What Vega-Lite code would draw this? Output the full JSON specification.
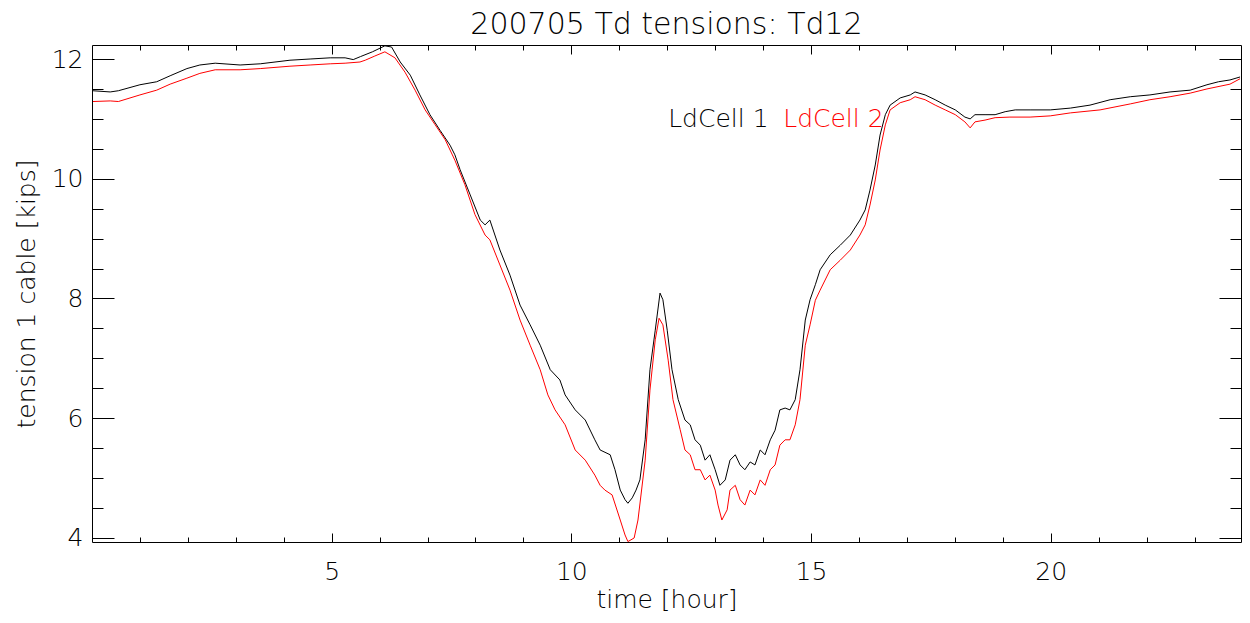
{
  "$schema": "https://vega.github.io/schema/vega-lite/v6.json",
  "width": 1149,
  "height": 497,
  "autosize": {"type": "none"},
  "padding": {"left": 92, "top": 45, "right": 9, "bottom": 81},
  "background": "white",
  "title": {"text": "200705 Td tensions: Td12", "font": "DejaVu Sans", "fontSize": 30, "fontWeight": 200, "color": "black", "baseline": "alphabetic", "offset": 11, "dy": 31, "anchor": "middle"},
  "config": {"view": {"stroke": null}, "axis": {"grid": false}},
  "datasets": {
    "series": [
      {"t":0.02,"v":11.47,"s":"LdCell 1"},{"t":0.38,"v":11.45,"s":"LdCell 1"},{"t":0.55,"v":11.47,"s":"LdCell 1"},{"t":1.0,"v":11.57,"s":"LdCell 1"},{"t":1.35,"v":11.62,"s":"LdCell 1"},{"t":1.63,"v":11.72,"s":"LdCell 1"},{"t":1.98,"v":11.84,"s":"LdCell 1"},{"t":2.25,"v":11.9,"s":"LdCell 1"},{"t":2.57,"v":11.93,"s":"LdCell 1"},{"t":3.09,"v":11.9,"s":"LdCell 1"},{"t":3.51,"v":11.92,"s":"LdCell 1"},{"t":4.13,"v":11.98,"s":"LdCell 1"},{"t":4.55,"v":12.0,"s":"LdCell 1"},{"t":4.97,"v":12.02,"s":"LdCell 1"},{"t":5.28,"v":12.02,"s":"LdCell 1"},{"t":5.45,"v":11.99,"s":"LdCell 1"},{"t":5.6,"v":12.04,"s":"LdCell 1"},{"t":5.85,"v":12.12,"s":"LdCell 1"},{"t":6.11,"v":12.22,"s":"LdCell 1"},{"t":6.25,"v":12.2,"s":"LdCell 1"},{"t":6.43,"v":11.95,"s":"LdCell 1"},{"t":6.64,"v":11.73,"s":"LdCell 1"},{"t":6.84,"v":11.4,"s":"LdCell 1"},{"t":7.05,"v":11.07,"s":"LdCell 1"},{"t":7.26,"v":10.81,"s":"LdCell 1"},{"t":7.47,"v":10.56,"s":"LdCell 1"},{"t":7.57,"v":10.4,"s":"LdCell 1"},{"t":7.68,"v":10.15,"s":"LdCell 1"},{"t":7.89,"v":9.73,"s":"LdCell 1"},{"t":8.1,"v":9.31,"s":"LdCell 1"},{"t":8.2,"v":9.23,"s":"LdCell 1"},{"t":8.3,"v":9.31,"s":"LdCell 1"},{"t":8.51,"v":8.81,"s":"LdCell 1"},{"t":8.72,"v":8.39,"s":"LdCell 1"},{"t":8.93,"v":7.89,"s":"LdCell 1"},{"t":9.14,"v":7.56,"s":"LdCell 1"},{"t":9.35,"v":7.22,"s":"LdCell 1"},{"t":9.56,"v":6.81,"s":"LdCell 1"},{"t":9.76,"v":6.64,"s":"LdCell 1"},{"t":9.87,"v":6.39,"s":"LdCell 1"},{"t":10.08,"v":6.14,"s":"LdCell 1"},{"t":10.29,"v":5.97,"s":"LdCell 1"},{"t":10.49,"v":5.64,"s":"LdCell 1"},{"t":10.6,"v":5.47,"s":"LdCell 1"},{"t":10.81,"v":5.39,"s":"LdCell 1"},{"t":10.91,"v":5.14,"s":"LdCell 1"},{"t":11.02,"v":4.8,"s":"LdCell 1"},{"t":11.12,"v":4.64,"s":"LdCell 1"},{"t":11.18,"v":4.58,"s":"LdCell 1"},{"t":11.27,"v":4.67,"s":"LdCell 1"},{"t":11.35,"v":4.8,"s":"LdCell 1"},{"t":11.43,"v":4.97,"s":"LdCell 1"},{"t":11.54,"v":5.64,"s":"LdCell 1"},{"t":11.64,"v":6.81,"s":"LdCell 1"},{"t":11.75,"v":7.47,"s":"LdCell 1"},{"t":11.85,"v":8.09,"s":"LdCell 1"},{"t":11.91,"v":7.98,"s":"LdCell 1"},{"t":12.0,"v":7.47,"s":"LdCell 1"},{"t":12.1,"v":6.81,"s":"LdCell 1"},{"t":12.23,"v":6.31,"s":"LdCell 1"},{"t":12.37,"v":5.97,"s":"LdCell 1"},{"t":12.48,"v":5.89,"s":"LdCell 1"},{"t":12.58,"v":5.64,"s":"LdCell 1"},{"t":12.69,"v":5.55,"s":"LdCell 1"},{"t":12.79,"v":5.3,"s":"LdCell 1"},{"t":12.89,"v":5.39,"s":"LdCell 1"},{"t":13.0,"v":5.14,"s":"LdCell 1"},{"t":13.1,"v":4.88,"s":"LdCell 1"},{"t":13.21,"v":4.97,"s":"LdCell 1"},{"t":13.31,"v":5.3,"s":"LdCell 1"},{"t":13.42,"v":5.39,"s":"LdCell 1"},{"t":13.52,"v":5.22,"s":"LdCell 1"},{"t":13.62,"v":5.14,"s":"LdCell 1"},{"t":13.73,"v":5.27,"s":"LdCell 1"},{"t":13.83,"v":5.22,"s":"LdCell 1"},{"t":13.94,"v":5.47,"s":"LdCell 1"},{"t":14.04,"v":5.39,"s":"LdCell 1"},{"t":14.15,"v":5.64,"s":"LdCell 1"},{"t":14.25,"v":5.8,"s":"LdCell 1"},{"t":14.35,"v":6.14,"s":"LdCell 1"},{"t":14.46,"v":6.17,"s":"LdCell 1"},{"t":14.56,"v":6.14,"s":"LdCell 1"},{"t":14.67,"v":6.31,"s":"LdCell 1"},{"t":14.77,"v":6.81,"s":"LdCell 1"},{"t":14.88,"v":7.64,"s":"LdCell 1"},{"t":14.98,"v":7.98,"s":"LdCell 1"},{"t":15.09,"v":8.23,"s":"LdCell 1"},{"t":15.19,"v":8.48,"s":"LdCell 1"},{"t":15.4,"v":8.73,"s":"LdCell 1"},{"t":15.61,"v":8.89,"s":"LdCell 1"},{"t":15.82,"v":9.06,"s":"LdCell 1"},{"t":16.02,"v":9.31,"s":"LdCell 1"},{"t":16.13,"v":9.48,"s":"LdCell 1"},{"t":16.23,"v":9.81,"s":"LdCell 1"},{"t":16.34,"v":10.23,"s":"LdCell 1"},{"t":16.44,"v":10.73,"s":"LdCell 1"},{"t":16.55,"v":11.07,"s":"LdCell 1"},{"t":16.65,"v":11.23,"s":"LdCell 1"},{"t":16.86,"v":11.35,"s":"LdCell 1"},{"t":17.07,"v":11.4,"s":"LdCell 1"},{"t":17.17,"v":11.45,"s":"LdCell 1"},{"t":17.38,"v":11.4,"s":"LdCell 1"},{"t":17.59,"v":11.32,"s":"LdCell 1"},{"t":17.8,"v":11.23,"s":"LdCell 1"},{"t":18.01,"v":11.15,"s":"LdCell 1"},{"t":18.21,"v":11.03,"s":"LdCell 1"},{"t":18.32,"v":11.0,"s":"LdCell 1"},{"t":18.42,"v":11.07,"s":"LdCell 1"},{"t":18.63,"v":11.07,"s":"LdCell 1"},{"t":18.84,"v":11.07,"s":"LdCell 1"},{"t":19.05,"v":11.12,"s":"LdCell 1"},{"t":19.26,"v":11.15,"s":"LdCell 1"},{"t":19.57,"v":11.15,"s":"LdCell 1"},{"t":19.99,"v":11.15,"s":"LdCell 1"},{"t":20.41,"v":11.18,"s":"LdCell 1"},{"t":20.82,"v":11.23,"s":"LdCell 1"},{"t":21.24,"v":11.32,"s":"LdCell 1"},{"t":21.66,"v":11.37,"s":"LdCell 1"},{"t":22.07,"v":11.4,"s":"LdCell 1"},{"t":22.49,"v":11.45,"s":"LdCell 1"},{"t":22.91,"v":11.48,"s":"LdCell 1"},{"t":23.26,"v":11.57,"s":"LdCell 1"},{"t":23.5,"v":11.62,"s":"LdCell 1"},{"t":23.74,"v":11.65,"s":"LdCell 1"},{"t":23.95,"v":11.7,"s":"LdCell 1"},
      {"t":0.02,"v":11.29,"s":"LdCell 2"},{"t":0.38,"v":11.3,"s":"LdCell 2"},{"t":0.55,"v":11.29,"s":"LdCell 2"},{"t":1.0,"v":11.4,"s":"LdCell 2"},{"t":1.35,"v":11.48,"s":"LdCell 2"},{"t":1.63,"v":11.58,"s":"LdCell 2"},{"t":1.98,"v":11.68,"s":"LdCell 2"},{"t":2.25,"v":11.76,"s":"LdCell 2"},{"t":2.57,"v":11.82,"s":"LdCell 2"},{"t":3.09,"v":11.82,"s":"LdCell 2"},{"t":3.51,"v":11.84,"s":"LdCell 2"},{"t":4.13,"v":11.88,"s":"LdCell 2"},{"t":4.55,"v":11.9,"s":"LdCell 2"},{"t":4.97,"v":11.92,"s":"LdCell 2"},{"t":5.28,"v":11.93,"s":"LdCell 2"},{"t":5.59,"v":11.95,"s":"LdCell 2"},{"t":5.7,"v":11.98,"s":"LdCell 2"},{"t":5.9,"v":12.05,"s":"LdCell 2"},{"t":6.11,"v":12.12,"s":"LdCell 2"},{"t":6.32,"v":12.02,"s":"LdCell 2"},{"t":6.53,"v":11.78,"s":"LdCell 2"},{"t":6.74,"v":11.48,"s":"LdCell 2"},{"t":6.95,"v":11.15,"s":"LdCell 2"},{"t":7.16,"v":10.9,"s":"LdCell 2"},{"t":7.37,"v":10.65,"s":"LdCell 2"},{"t":7.57,"v":10.31,"s":"LdCell 2"},{"t":7.78,"v":9.9,"s":"LdCell 2"},{"t":7.99,"v":9.4,"s":"LdCell 2"},{"t":8.2,"v":9.06,"s":"LdCell 2"},{"t":8.3,"v":8.98,"s":"LdCell 2"},{"t":8.51,"v":8.56,"s":"LdCell 2"},{"t":8.72,"v":8.14,"s":"LdCell 2"},{"t":8.93,"v":7.64,"s":"LdCell 2"},{"t":9.14,"v":7.22,"s":"LdCell 2"},{"t":9.35,"v":6.81,"s":"LdCell 2"},{"t":9.51,"v":6.39,"s":"LdCell 2"},{"t":9.66,"v":6.14,"s":"LdCell 2"},{"t":9.87,"v":5.89,"s":"LdCell 2"},{"t":10.08,"v":5.47,"s":"LdCell 2"},{"t":10.29,"v":5.3,"s":"LdCell 2"},{"t":10.49,"v":5.05,"s":"LdCell 2"},{"t":10.6,"v":4.88,"s":"LdCell 2"},{"t":10.7,"v":4.8,"s":"LdCell 2"},{"t":10.85,"v":4.72,"s":"LdCell 2"},{"t":11.02,"v":4.3,"s":"LdCell 2"},{"t":11.12,"v":4.05,"s":"LdCell 2"},{"t":11.18,"v":3.94,"s":"LdCell 2"},{"t":11.31,"v":4.0,"s":"LdCell 2"},{"t":11.39,"v":4.3,"s":"LdCell 2"},{"t":11.54,"v":5.3,"s":"LdCell 2"},{"t":11.64,"v":6.47,"s":"LdCell 2"},{"t":11.75,"v":7.31,"s":"LdCell 2"},{"t":11.83,"v":7.67,"s":"LdCell 2"},{"t":11.91,"v":7.56,"s":"LdCell 2"},{"t":12.02,"v":6.97,"s":"LdCell 2"},{"t":12.12,"v":6.31,"s":"LdCell 2"},{"t":12.27,"v":5.81,"s":"LdCell 2"},{"t":12.37,"v":5.47,"s":"LdCell 2"},{"t":12.48,"v":5.39,"s":"LdCell 2"},{"t":12.58,"v":5.14,"s":"LdCell 2"},{"t":12.69,"v":5.14,"s":"LdCell 2"},{"t":12.79,"v":4.97,"s":"LdCell 2"},{"t":12.89,"v":5.05,"s":"LdCell 2"},{"t":13.0,"v":4.8,"s":"LdCell 2"},{"t":13.06,"v":4.55,"s":"LdCell 2"},{"t":13.14,"v":4.3,"s":"LdCell 2"},{"t":13.25,"v":4.47,"s":"LdCell 2"},{"t":13.31,"v":4.8,"s":"LdCell 2"},{"t":13.42,"v":4.88,"s":"LdCell 2"},{"t":13.52,"v":4.64,"s":"LdCell 2"},{"t":13.62,"v":4.55,"s":"LdCell 2"},{"t":13.73,"v":4.8,"s":"LdCell 2"},{"t":13.83,"v":4.72,"s":"LdCell 2"},{"t":13.94,"v":4.97,"s":"LdCell 2"},{"t":14.04,"v":4.88,"s":"LdCell 2"},{"t":14.15,"v":5.14,"s":"LdCell 2"},{"t":14.25,"v":5.22,"s":"LdCell 2"},{"t":14.35,"v":5.55,"s":"LdCell 2"},{"t":14.46,"v":5.64,"s":"LdCell 2"},{"t":14.56,"v":5.64,"s":"LdCell 2"},{"t":14.67,"v":5.89,"s":"LdCell 2"},{"t":14.77,"v":6.31,"s":"LdCell 2"},{"t":14.88,"v":7.22,"s":"LdCell 2"},{"t":14.98,"v":7.56,"s":"LdCell 2"},{"t":15.09,"v":7.97,"s":"LdCell 2"},{"t":15.19,"v":8.14,"s":"LdCell 2"},{"t":15.4,"v":8.48,"s":"LdCell 2"},{"t":15.61,"v":8.64,"s":"LdCell 2"},{"t":15.82,"v":8.81,"s":"LdCell 2"},{"t":16.02,"v":9.06,"s":"LdCell 2"},{"t":16.13,"v":9.23,"s":"LdCell 2"},{"t":16.23,"v":9.56,"s":"LdCell 2"},{"t":16.34,"v":9.98,"s":"LdCell 2"},{"t":16.44,"v":10.48,"s":"LdCell 2"},{"t":16.55,"v":10.9,"s":"LdCell 2"},{"t":16.65,"v":11.15,"s":"LdCell 2"},{"t":16.86,"v":11.27,"s":"LdCell 2"},{"t":17.07,"v":11.32,"s":"LdCell 2"},{"t":17.17,"v":11.37,"s":"LdCell 2"},{"t":17.38,"v":11.32,"s":"LdCell 2"},{"t":17.59,"v":11.23,"s":"LdCell 2"},{"t":17.8,"v":11.15,"s":"LdCell 2"},{"t":18.01,"v":11.07,"s":"LdCell 2"},{"t":18.21,"v":10.95,"s":"LdCell 2"},{"t":18.32,"v":10.85,"s":"LdCell 2"},{"t":18.42,"v":10.95,"s":"LdCell 2"},{"t":18.63,"v":10.98,"s":"LdCell 2"},{"t":18.84,"v":11.02,"s":"LdCell 2"},{"t":19.15,"v":11.03,"s":"LdCell 2"},{"t":19.57,"v":11.03,"s":"LdCell 2"},{"t":19.99,"v":11.05,"s":"LdCell 2"},{"t":20.41,"v":11.1,"s":"LdCell 2"},{"t":21.03,"v":11.15,"s":"LdCell 2"},{"t":21.66,"v":11.25,"s":"LdCell 2"},{"t":22.07,"v":11.32,"s":"LdCell 2"},{"t":22.49,"v":11.37,"s":"LdCell 2"},{"t":22.91,"v":11.43,"s":"LdCell 2"},{"t":23.26,"v":11.5,"s":"LdCell 2"},{"t":23.74,"v":11.58,"s":"LdCell 2"},{"t":23.95,"v":11.67,"s":"LdCell 2"}
    ],
    "notes": [
      {"t": 12.02, "v": 10.864, "s": "LdCell 1", "label": "LdCell 1"},
      {"t": 14.42, "v": 10.864, "s": "LdCell 2", "label": "LdCell 2"}
    ]
  },
  "layer": [
    {
      "data": {"name": "series"},
      "mark": {"type": "line", "strokeWidth": 1},
      "encoding": {
        "x": {"field": "t", "type": "quantitative", "scale": {"domain": [0, 23.97], "nice": false, "zero": false},
          "axis": {"orient": "bottom", "values": [5, 10, 15, 20], "ticks": false, "labelPadding": 37, "labelBaseline": "alphabetic", "labelFont": "DejaVu Sans", "labelFontSize": 25, "labelFontWeight": 200, "labelColor": "black", "labelFlush": false, "labelOverlap": false,
            "domainColor": "black", "domainWidth": 1,
            "title": "time [hour]", "titleFont": "DejaVu Sans", "titleFontSize": 25, "titleFontWeight": 200, "titleColor": "black", "titleX": 574.5, "titleY": 65, "titleAlign": "center", "titleBaseline": "alphabetic"}},
        "y": {"field": "v", "type": "quantitative", "scale": {"domain": [3.933, 12.234], "nice": false, "zero": false},
          "axis": {"orient": "left", "values": [4, 6, 8, 10, 12], "ticks": false, "labelPadding": 9, "labelBaseline": "middle", "labelFont": "DejaVu Sans", "labelFontSize": 25, "labelFontWeight": 200, "labelColor": "black", "labelFlush": false, "labelOverlap": false,
            "domainColor": "black", "domainWidth": 1,
            "title": "tension 1 cable [kips]", "titleFont": "DejaVu Sans", "titleFontSize": 25, "titleFontWeight": 200, "titleColor": "black", "titleX": -66, "titleY": 248.5, "titleAngle": -90, "titleAlign": "center", "titleBaseline": "middle"}},
        "color": {"field": "s", "type": "nominal", "scale": {"domain": ["LdCell 1", "LdCell 2"], "range": ["#000000", "#ff0000"]}, "legend": null}
      }
    },
    {
      "data": {"name": "notes"},
      "mark": {"type": "text", "align": "left", "baseline": "alphabetic", "font": "DejaVu Sans", "fontSize": 25, "fontWeight": 200},
      "encoding": {
        "x": {"field": "t", "type": "quantitative", "scale": {"domain": [0, 23.97], "nice": false, "zero": false},
          "axis": {"orient": "bottom", "values": [1,2,3,4,5,6,7,8,9,10,11,12,13,14,15,16,17,18,19,20,21,22,23], "labels": false, "domain": false, "title": null, "tickColor": "black", "tickWidth": 1,
            "tickSize": {"condition": {"test": "datum.value % 5 === 0", "value": -9}, "value": -5}}},
        "y": {"field": "v", "type": "quantitative", "scale": {"domain": [3.933, 12.234], "nice": false, "zero": false},
          "axis": {"orient": "left", "values": [4,4.5,5,5.5,6,6.5,7,7.5,8,8.5,9,9.5,10,10.5,11,11.5,12], "labels": false, "domain": false, "title": null, "tickColor": "black", "tickWidth": 1,
            "tickSize": {"condition": {"test": "datum.value % 2 === 0", "value": -22}, "value": -11}}},
        "text": {"field": "label", "type": "nominal"},
        "color": {"field": "s", "type": "nominal", "scale": {"domain": ["LdCell 1", "LdCell 2"], "range": ["#000000", "#ff0000"]}, "legend": null}
      }
    },
    {
      "data": {"name": "notes"},
      "mark": {"type": "point", "opacity": 0},
      "encoding": {
        "x": {"field": "t", "type": "quantitative", "scale": {"domain": [0, 23.97], "nice": false, "zero": false},
          "axis": {"orient": "top", "values": [1,2,3,4,5,6,7,8,9,10,11,12,13,14,15,16,17,18,19,20,21,22,23], "labels": false, "title": null, "domainColor": "black", "domainWidth": 1, "tickColor": "black", "tickWidth": 1,
            "tickSize": {"condition": {"test": "datum.value % 5 === 0", "value": -9}, "value": -5}}},
        "y": {"field": "v", "type": "quantitative", "scale": {"domain": [3.933, 12.234], "nice": false, "zero": false},
          "axis": {"orient": "right", "values": [4,4.5,5,5.5,6,6.5,7,7.5,8,8.5,9,9.5,10,10.5,11,11.5,12], "labels": false, "title": null, "domainColor": "black", "domainWidth": 1, "tickColor": "black", "tickWidth": 1,
            "tickSize": {"condition": {"test": "datum.value % 2 === 0", "value": -22}, "value": -11}}}
      }
    }
  ],
  "resolve": {"axis": {"x": "independent", "y": "independent"}}
}
